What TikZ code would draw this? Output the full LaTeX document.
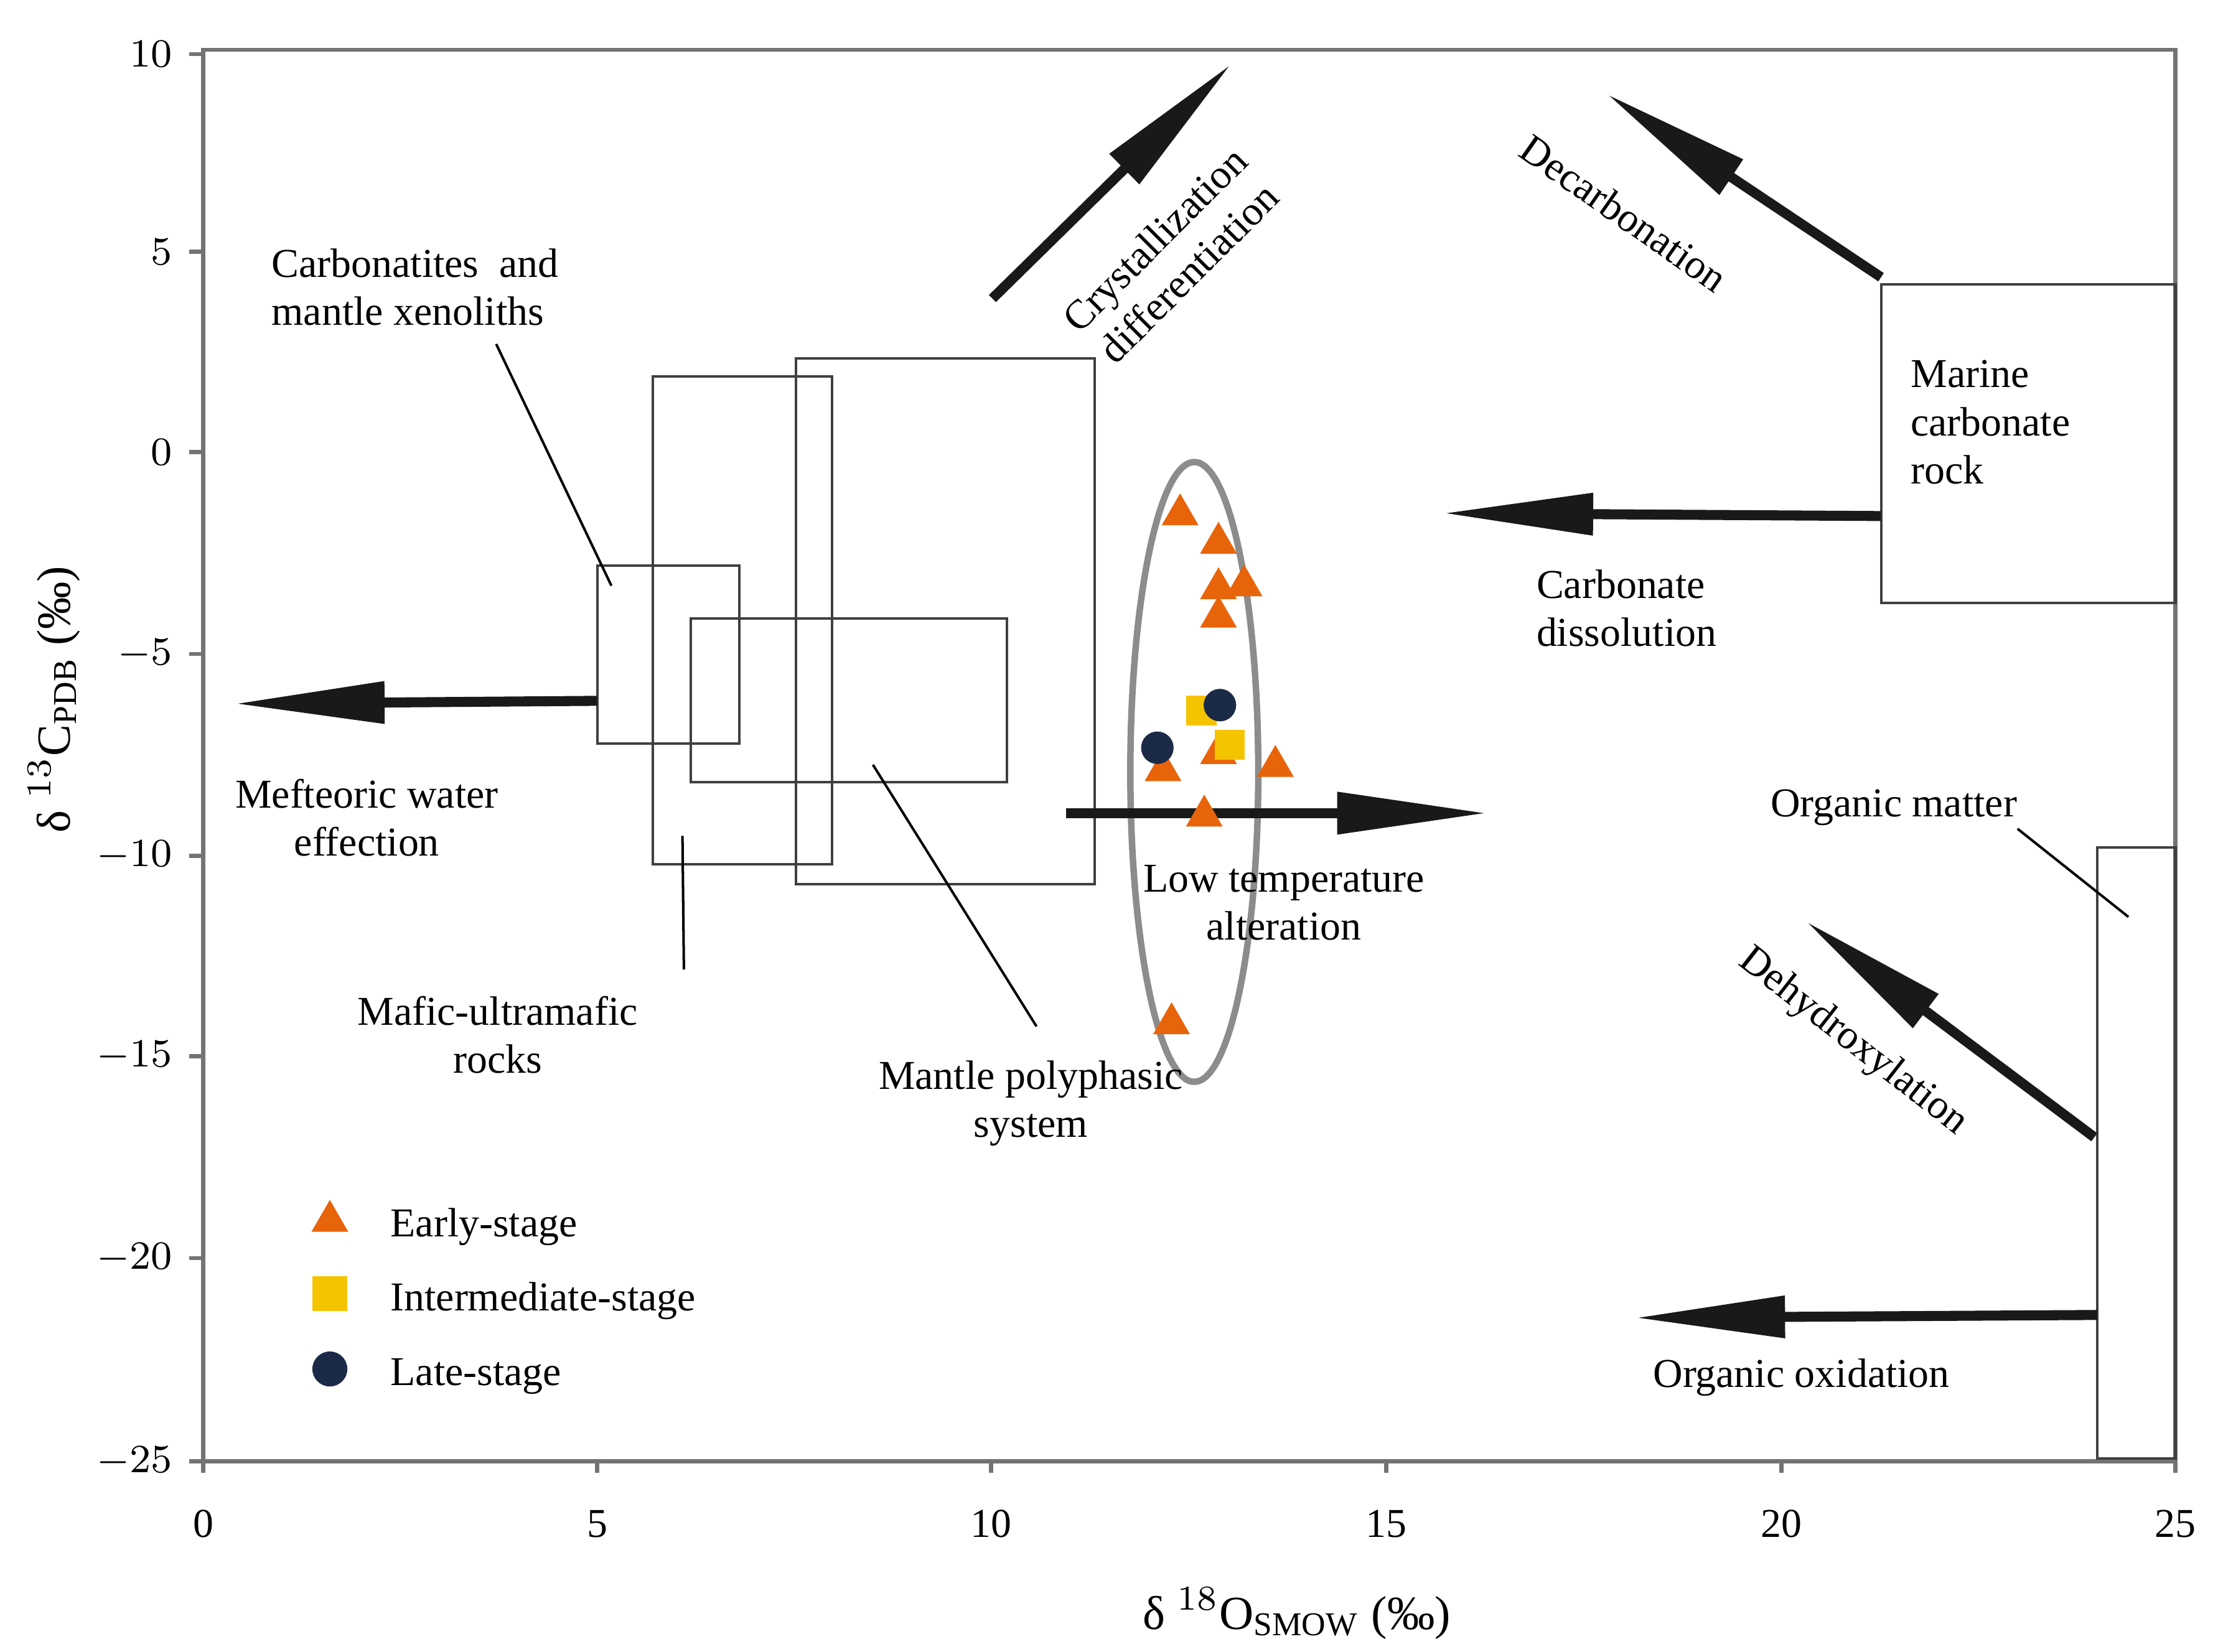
\documentclass[tikz,border=0pt]{standalone}
\usepackage{fontspec}
\setmainfont{Liberation Serif}
\usetikzlibrary{arrows.meta,shapes.geometric}
\definecolor{early}{HTML}{E8640A}
\definecolor{inter}{HTML}{F5C400}
\definecolor{late}{HTML}{1B2A47}
\tikzset{
  box/.style={draw=black!75, line width=0.5pt},
  trend/.style={draw=black!90, line width=2pt, -{Stealth[length=30pt,width=8pt,inset=0pt]}},
  lead/.style={draw=black, line width=0.5pt},
  lbl/.style={font=\fontsize{8.2}{9.6}\selectfont, align=center, inner sep=0pt},
  tri/.style={regular polygon, regular polygon sides=3, fill=early, minimum size=8.5pt, inner sep=0pt},
  sq/.style={rectangle, fill=inter, minimum size=6pt, inner sep=0pt},
  dot/.style={circle, fill=late, minimum size=6.5pt, inner sep=0pt}
}
\begin{document}
\begin{tikzpicture}[x=0.01cm,y=-0.01cm]
\useasboundingbox (0,0) rectangle (1560,1162);
% axes
\draw[draw=black!55, line width=0.8pt] (143,35) rectangle (1530,1028);
\foreach \v/\p in {10/38,5/177,0/318,-5/460,-10/602,-15/743,-20/885,-25/1028}{
  \draw[draw=black!55, line width=0.8pt] (143,\p) -- (133,\p);
  \node[lbl, anchor=east] at (122,\p) {$\v$};}
\foreach \v/\p in {0/143,5/420,10/697,15/975,20/1253,25/1530}{
  \draw[draw=black!55, line width=0.8pt] (\p,1028) -- (\p,1036);
  \node[lbl] at (\p,1072) {\v};}
\node[lbl, font=\fontsize{9.5}{11}\selectfont] (xl) at (912,1135) {δ $^{18}$O$_{\mathrm{SMOW}}$ (‰)};
\node[lbl, font=\fontsize{9.5}{11}\selectfont, rotate=90] (yl) at (38,492) {δ $^{13}$C$_{\mathrm{PDB}}$ (‰)};
% fields
\draw[box] (420,398) rectangle (520,523);
\draw[box] (459,265) rectangle (585,608);
\draw[box] (560,252) rectangle (770,622);
\draw[box] (486,435) rectangle (708,550);
\draw[box] (1323,200) rectangle (1530,424);
\draw[box] (1475,596) rectangle (1530,1026);
\draw[draw=black!45, line width=1.3pt] (840,543) ellipse (45 and 218);
% trends
\coordinate (mw0) at (420,493); \coordinate (mw1) at (165,495);
\coordinate (cd0) at (698,210); \coordinate (cd1) at (866,45);
\coordinate (dc0) at (1323,195); \coordinate (dc1) at (1130,66);
\coordinate (cs0) at (1323,363); \coordinate (cs1) at (1015,361);
\coordinate (lt0) at (750,572); \coordinate (lt1) at (1046,572);
\coordinate (dh0) at (1473,800); \coordinate (dh1) at (1270,648);
\coordinate (oo0) at (1475,925); \coordinate (oo1) at (1150,927);
\foreach \a in {mw,cd,dc,cs,lt,dh,oo}
  \draw[trend] (\a0) -- (\a1);
% labels
\node[lbl, align=left] (carb) at (292,202) {Carbonatites~ and\\mantle xenoliths};
\node[lbl] (meteo) at (258,575) {Mefteoric water\\effection};
\node[lbl] (mafic) at (350,728) {Mafic-ultramafic\\rocks};
\node[lbl] (mps) at (725,776) {Mantle polyphasic\\system};
\node[lbl] (lta) at (903,635) {Low temperature\\alteration};
\node[lbl, align=left] (mcr) at (1400,297) {Marine\\carbonate\\rock};
\node[lbl, align=left] (cdis) at (1144,428) {Carbonate\\dissolution};
\node[lbl] (om) at (1332,568) {Organic matter};
\node[lbl] (oox) at (1267,969) {Organic oxidation};
\node[lbl, rotate=45] (cryst) at (824,180) {Crystallization\\differentiation};
\node[lbl, rotate=-35] (decarb) at (1142,150) {Decarbonation};
\node[lbl, rotate=-38] (dehyd) at (1303,733) {Dehydroxylation};
\coordinate (carbE) at (430,412); \coordinate (mafE) at (480,588);
\coordinate (mpsE) at (614,538); \coordinate (omE) at (1497,645);
\draw[lead] (349,242) -- (carbE);
\draw[lead] (481,682) -- (mafE);
\draw[lead] (729,722) -- (mpsE);
\draw[lead] (1419,583) -- (omE);
% samples
\foreach \x/\y [count=\i] in {830/362,857/382,857/414,875/412,857/434,857/530,818/542,847/574,897/539,824/720}
  \node[tri] (e\i) at (\x,\y) {};
\foreach \x/\y [count=\i] in {845/500,865/524}
  \node[sq] (m\i) at (\x,\y) {};
\foreach \x/\y [count=\i] in {858/496,814/526}
  \node[dot] (l\i) at (\x,\y) {};
% legend
\node[tri] (ktri) at (232,859) {};
\node[lbl, anchor=west] (ktxt) at (274,863) {Early-stage};
\node[sq, minimum size=7pt] (ksq) at (232,910) {};
\node[lbl, anchor=west] (kstxt) at (274,915) {Intermediate-stage};
\node[dot, minimum size=7pt] (kdot) at (232,963) {};
\node[lbl, anchor=west] (kdtxt) at (274,968) {Late-stage};
\end{tikzpicture}
\end{document}
